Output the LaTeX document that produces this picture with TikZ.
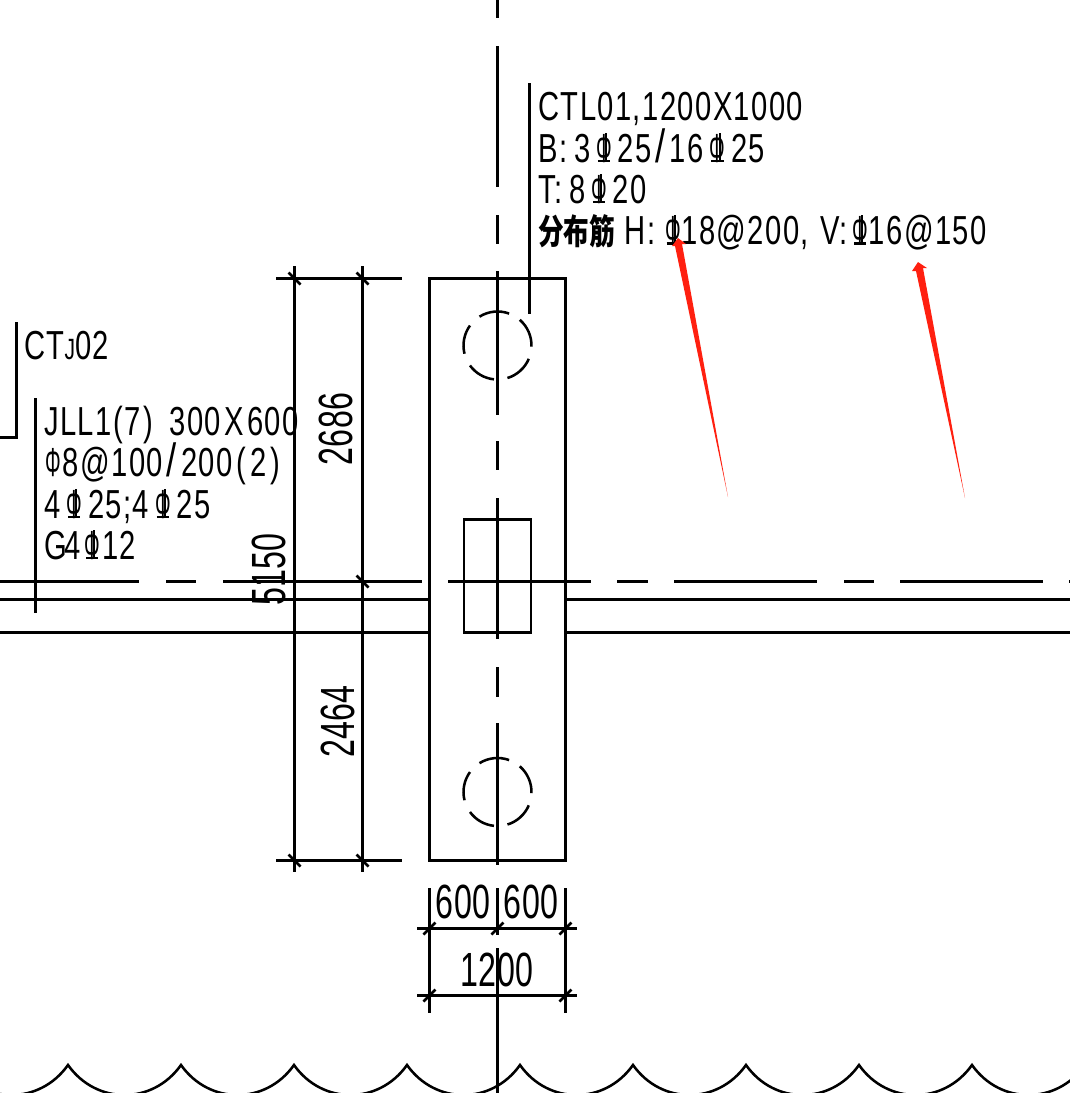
\documentclass[tikz,border=0pt]{standalone}
\usepackage{fontspec}
\setmainfont[FakeStretch=0.72,LetterSpace=3.5,WordSpace=1.6]{Liberation Sans}
\newfontfamily\dimfont[FakeStretch=0.67,LetterSpace=0.5]{Liberation Sans}
\newfontfamily\cjkfont[FakeStretch=0.74]{Noto Sans CJK SC}
\newcommand{\plainbar}{\makebox[.46em][c]{\scalebox{.67}[1]{Φ}}}
\newcommand{\ribbar}{\makebox[.68em][l]{\rlap{\hspace{.15em}\scalebox{.67}[1]{Φ}}\rlap{\hspace{.365em}\rule{.05em}{.72em}}\hspace{.19em}\rule{.3em}{.055em}}}
\newcommand{\wideslash}{\hspace{3pt}\scalebox{1.25}[1.15]{/}\hspace{3pt}}
\tikzset{
  cadline/.style={line width=1.9pt},
  leaderline/.style={line width=1.7pt},
  redarrow/.style={fill={rgb, 255:red, 255; green, 32; blue, 16 },draw=none},
  cadtext/.style={anchor=base west,inner sep=0pt,font=\fontsize{30.4}{30.4}\selectfont},
  dimtext/.style={anchor=base,inner sep=0pt,font=\dimfont\fontsize{36}{36}\selectfont},
}

\begin{document}
\begin{tikzpicture}[x=0.75pt,y=0.75pt,yscale=-1,xscale=1]
\clip (0,0) rectangle (1070,1093);

%Vertical axis
\draw [cadline]   (497.5,0) -- (497.5,18) ;
\draw [cadline]   (497.5,46) -- (497.5,187) ;
\draw [cadline]   (497.5,215) -- (497.5,244) ;
\draw [cadline]   (497.5,271) -- (497.5,415) ;
\draw [cadline]   (497.5,441) -- (497.5,470) ;
\draw [cadline]   (497.5,498) -- (497.5,639) ;
\draw [cadline]   (497.5,667) -- (497.5,697) ;
\draw [cadline]   (497.5,723) -- (497.5,865) ;
\draw [cadline]   (497.5,888) -- (497.5,935) ;
\draw [cadline]   (497.5,948) -- (497.5,1093) ;

%Horizontal axis
\draw [cadline]   (0,581.5) -- (139,581.5) ;
\draw [cadline]   (166,581.5) -- (196,581.5) ;
\draw [cadline]   (223,581.5) -- (364,581.5) ;
\draw [cadline]   (392,581.5) -- (422,581.5) ;
\draw [cadline]   (448,581.5) -- (591,581.5) ;
\draw [cadline]   (617,581.5) -- (648,581.5) ;
\draw [cadline]   (674,581.5) -- (817,581.5) ;
\draw [cadline]   (844,581.5) -- (874,581.5) ;
\draw [cadline]   (900,581.5) -- (1043,581.5) ;
\draw [cadline]   (1069,581.5) -- (1070,581.5) ;

%Beam lines
\draw [cadline]   (0,599.5) -- (429.5,599.5) ;
\draw [cadline]   (0,632.5) -- (429.5,632.5) ;
\draw [cadline]   (565.5,599.5) -- (1070,599.5) ;
\draw [cadline]   (565.5,632.5) -- (1070,632.5) ;

%Cap and column
\draw [cadline]   (429.5,278.5) -- (565.5,278.5) -- (565.5,860.5) -- (429.5,860.5) -- cycle ;
\draw [cadline]   (464,519.5) -- (531,519.5) -- (531,632.5) -- (464,632.5) -- cycle ;

%Dashed piles
\draw [cadline]   (497.5,345.5) ++(-122:34) arc (-122:-70:34) ;
\draw [cadline]   (497.5,345.5) ++(-49:34) arc (-49:2:34) ;
\draw [cadline]   (497.5,345.5) ++(23:34) arc (23:73:34) ;
\draw [cadline]   (497.5,345.5) ++(96:34) arc (96:144:34) ;
\draw [cadline]   (497.5,345.5) ++(166:34) arc (166:216:34) ;
\draw [cadline]   (497.5,792) ++(-122:34) arc (-122:-70:34) ;
\draw [cadline]   (497.5,792) ++(-49:34) arc (-49:2:34) ;
\draw [cadline]   (497.5,792) ++(23:34) arc (23:73:34) ;
\draw [cadline]   (497.5,792) ++(96:34) arc (96:144:34) ;
\draw [cadline]   (497.5,792) ++(166:34) arc (166:216:34) ;

%Leaders
\draw [leaderline]   (529.5,83) -- (529.5,314) ;
\draw [leaderline]   (16.5,322) -- (16.5,437.5) -- (0,437.5) ;
\draw [leaderline]   (35.5,398) -- (35.5,613) ;

%Vertical dimensions
\draw [cadline]   (276,278.5) -- (402,278.5) ;
\draw [cadline]   (276,860.5) -- (402,860.5) ;
\draw [cadline]   (358,581.5) -- (402,581.5) ;
\draw [cadline]   (294.5,266) -- (294.5,872) ;
\draw [cadline]   (362.5,266) -- (362.5,872) ;
\draw [cadline]   (288.5,272.5) -- (300.5,284.5) ;
\draw [cadline]   (356.5,272.5) -- (368.5,284.5) ;
\draw [cadline]   (356.5,575.5) -- (368.5,587.5) ;
\draw [cadline]   (288.5,854.5) -- (300.5,866.5) ;
\draw [cadline]   (356.5,854.5) -- (368.5,866.5) ;

%Horizontal dimensions
\draw [cadline]   (417,928.5) -- (577,928.5) ;
\draw [cadline]   (417,995.5) -- (577,995.5) ;
\draw [cadline]   (429.5,888) -- (429.5,1013) ;
\draw [cadline]   (565.5,888) -- (565.5,1013) ;
\draw [cadline]   (423.5,934.5) -- (435.5,922.5) ;
\draw [cadline]   (491.5,934.5) -- (503.5,922.5) ;
\draw [cadline]   (559.5,934.5) -- (571.5,922.5) ;
\draw [cadline]   (423.5,1001.5) -- (435.5,989.5) ;
\draw [cadline]   (559.5,1001.5) -- (571.5,989.5) ;

%Cloud line
\draw [cadline]   (-45,1065) .. controls (-16.7,1105) and (39.7,1105) .. (68,1065) .. controls (96.3,1105) and (152.7,1105) .. (181,1065) .. controls (209.3,1105) and (265.7,1105) .. (294,1065) .. controls (322.3,1105) and (378.7,1105) .. (407,1065) .. controls (435.3,1105) and (491.7,1105) .. (520,1065) .. controls (548.3,1105) and (604.7,1105) .. (633,1065) .. controls (661.3,1105) and (717.7,1105) .. (746,1065) .. controls (774.3,1105) and (830.7,1105) .. (859,1065) .. controls (887.3,1105) and (943.7,1105) .. (972,1065) .. controls (1000.3,1105) and (1056.7,1105) .. (1085,1065) ;

% Text Node
\draw (538,120.5) node (ctlname) [cadtext]  {CTL01,1200X1000};
\draw (538,162) node (ctlbottom) [cadtext]  {B:\,3\ribbar25\wideslash16\ribbar25};
\draw (538,203) node (ctltop) [cadtext]  {T:\,8\ribbar20};
\draw (538,244.5) node (ctldist) [cadtext]  {{\cjkfont\bfseries\fontsize{26}{26}\selectfont 分布筋}\hspace{7pt}H:\,\hspace{-2.2pt}\ribbar\hspace{-3.8pt}18@200,\hspace{-3pt} V:\hspace{-1.2pt}\ribbar\hspace{-3.8pt}16@150};
\draw (24,359.5) node (ctjname) [cadtext]  {CT{\fontsize{22}{22}\selectfont J}02};
\draw (44,435) node (jllname) [cadtext]  {JLL1\hspace{1.5pt}(7\hspace{1.5pt})\hspace{1pt} 300\hspace{2.5pt}X\hspace{2.5pt}600};
\draw (44,476) node (jllstirrup) [cadtext]  {\plainbar8\hspace{1pt}@\hspace{1pt}100\wideslash200\hspace{3pt}(\hspace{3pt}2\hspace{3pt})};
\draw (44,518) node (jllmain) [cadtext]  {4\ribbar25;4\ribbar25};
\draw (44,559) node (jllside) [cadtext]  {G\hspace{-2pt}4\hspace{-1.5pt}\ribbar\hspace{-3pt}12};
\draw (352,429) node (dimupper) [dimtext,rotate=90]  {2686};
\draw (285,569.5) node (dimtotal) [dimtext,rotate=90]  {5150};
\draw (354,721.5) node (dimlower) [dimtext,rotate=90]  {2464};
\draw (463,918) node (dimleft) [dimtext]  {600};
\draw (531,918) node (dimright) [dimtext]  {600};
\draw (497,986) node (dimwidth) [dimtext]  {1200};

%Red arrows
\fill [redarrow]   (678,238) -- (686,244) -- (682,244) -- (728,497) -- (675,246) -- (672,246) -- cycle ;
\fill [redarrow]   (918,262) -- (927,268) -- (923,268) -- (965,498) -- (916,271) -- (912,271) -- cycle ;

\end{tikzpicture}
\end{document}
